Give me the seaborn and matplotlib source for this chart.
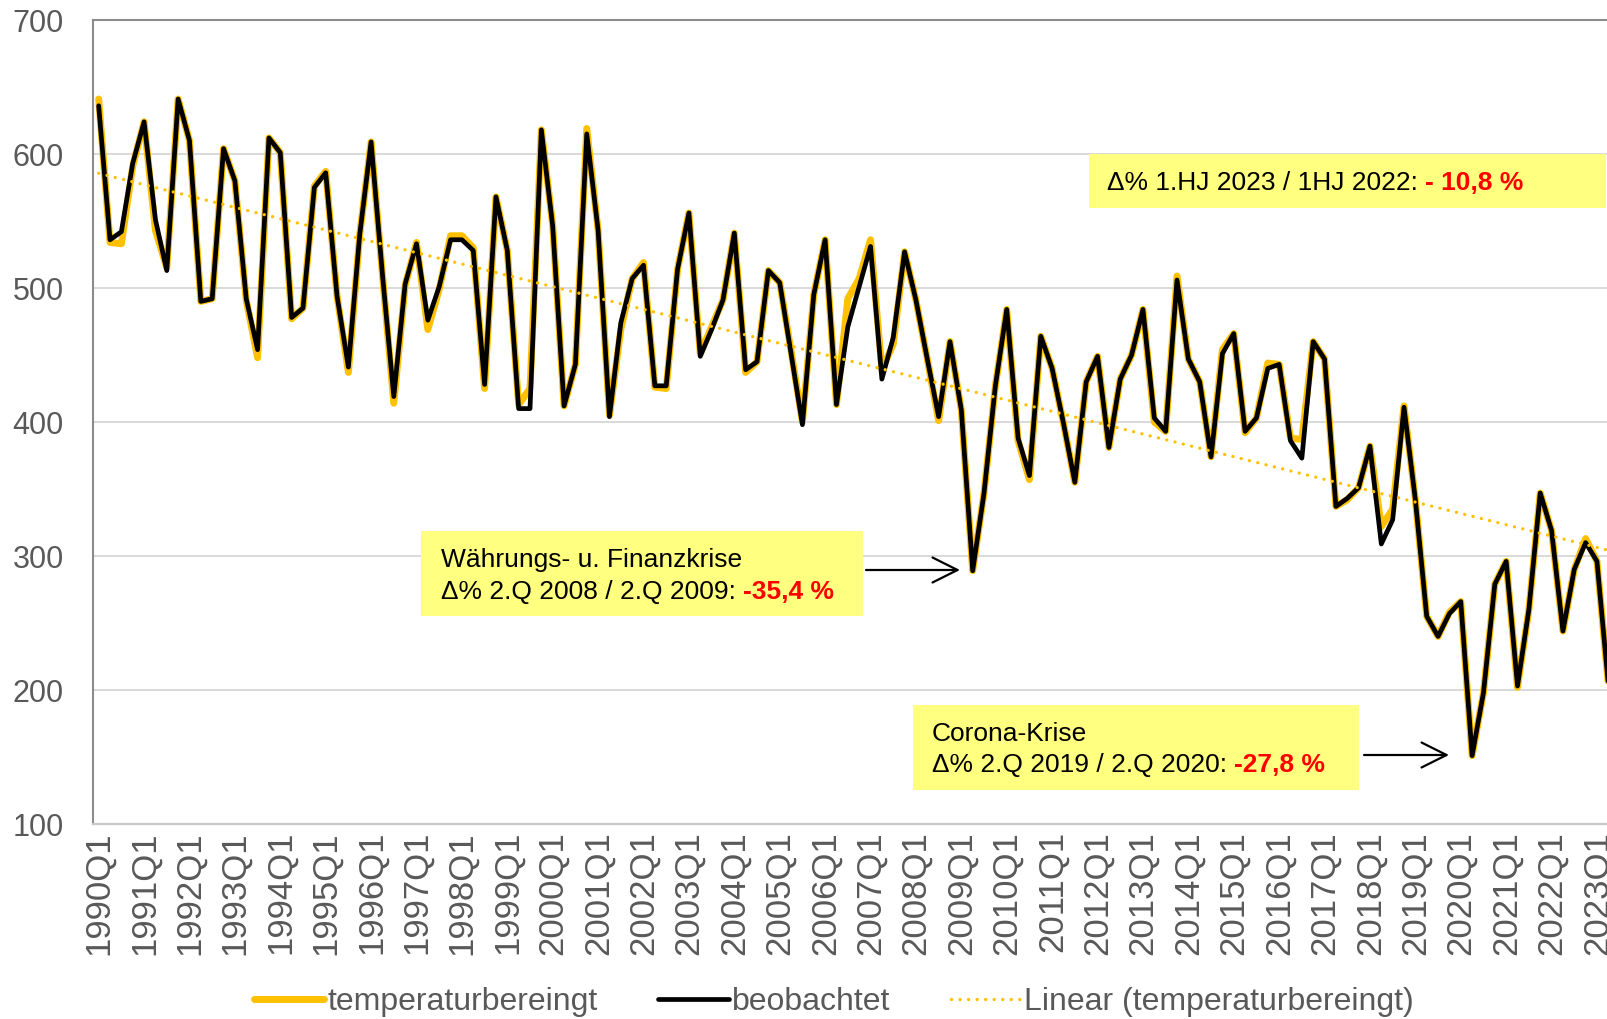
import numpy as np
import pandas as pd
import matplotlib
matplotlib.use("Agg")
import matplotlib.pyplot as plt
import seaborn as sns
from matplotlib.patches import Rectangle

# ---------------- data ----------------
quarters = [f"{y}Q{q}" for y in range(1990, 2024) for q in range(1, 5)][:134]

temperaturbereinigt = [
    641, 534, 533, 591, 624, 543, 515, 641, 610, 490, 492, 604, 580, 491, 448, 612, 601, 477, 485, 576, 587, 494, 437,
    540, 609, 510, 414, 502, 534, 469, 499, 539, 539, 530, 425, 568, 528, 413, 425, 618, 547, 412, 443, 619, 543, 405,
    469, 507, 519, 426, 425, 514, 556, 451, 471, 491, 541, 437, 445, 513, 504, 453, 400, 495, 536, 413, 492, 507, 536,
    439, 458, 527, 491, 447, 401, 460, 409, 289, 347, 427, 484, 386, 357, 464, 440, 399, 355, 430, 449, 381, 432,
    450, 484, 400, 393, 509, 447, 430, 374, 454, 466, 392, 403, 444, 443, 388, 387, 460, 447, 337, 342, 351, 382, 322,
    335, 412, 342, 255, 240, 258, 266, 151, 198, 279, 296, 202, 260, 347, 319, 244, 290, 313, 296, 204,
]

beobachtet = [
    636, 536, 542, 593, 624, 551, 513, 641, 610, 490, 492, 604, 580, 492, 454, 612, 601, 478, 485, 575, 586, 494, 441,
    540, 609, 510, 419, 503, 533, 476, 501, 536, 536, 528, 428, 568, 528, 410, 410, 618, 546, 412, 443, 615, 543, 404,
    474, 507, 517, 427, 427, 514, 556, 449, 469, 491, 541, 439, 445, 513, 504, 451, 398, 495, 536, 413, 471, 501, 531,
    432, 463, 527, 491, 447, 404, 460, 409, 289, 347, 427, 484, 388, 360, 464, 440, 399, 355, 430, 449, 381, 432,
    450, 484, 403, 393, 506, 447, 430, 374, 451, 466, 393, 403, 440, 443, 386, 373, 460, 447, 337, 343, 351, 382, 309,
    327, 411, 342, 255, 240, 257, 266, 151, 198, 279, 296, 203, 260, 347, 319, 244, 290, 310, 296, 204,
]

tick_labels = quarters[::4]
y_ticks = [100, 200, 300, 400, 500, 600, 700]

series_labels = ["temperaturbereingt", "beobachtet", "Linear (temperaturbereingt)"]

box_texts = [
    ("Währungs- u. Finanzkrise", "Δ% 2.Q 2008 / 2.Q 2009: ", "-35,4 %"),
    ("Corona-Krise", "Δ% 2.Q 2019 / 2.Q 2020: ", "-27,8 %"),
    (None, "Δ% 1.HJ 2023 / 1HJ 2022: ", "- 10,8 %"),
]

# ---------------- styling ----------------
ORANGE = "#FFC000"
GRID = "#D9D9D9"
TXT = "#595959"
YELLOW = "#FFFF80"

sns.set_theme(style="white")
plt.rcParams["font.family"] = ["Liberation Sans", "DejaVu Sans"]

W, H = 1608, 1019
fig = plt.figure(figsize=(W / 100, H / 100), dpi=100)


def fx(x):
    return x / W


def fy(y):
    return 1 - y / H


ax_left, ax_right, ax_top, ax_bottom = 93, 1614, 20, 824
ax = fig.add_axes([fx(ax_left), fy(ax_bottom), (ax_right - ax_left) / W, (ax_bottom - ax_top) / H])

idx = np.arange(len(quarters))
df = pd.DataFrame({"idx": idx, "temp": temperaturbereinigt, "beob": beobachtet})
coef = np.polyfit(df["idx"], df["temp"], 1)
df["trend"] = np.polyval(coef, df["idx"])

sns.lineplot(data=df, x="idx", y="temp", ax=ax, color=ORANGE, lw=5.0,
             label=series_labels[0], solid_joinstyle="round", zorder=3)
sns.lineplot(data=df, x="idx", y="beob", ax=ax, color="black", lw=3.4,
             label=series_labels[1], solid_joinstyle="round", zorder=4)
sns.lineplot(data=df, x="idx", y="trend", ax=ax, color=ORANGE, lw=2.4,
             label=series_labels[2], linestyle=(0, (0.01, 2.55)),
             dash_capstyle="round", zorder=5)

ax.set_xlim(-0.5, len(quarters) - 0.5)
ax.set_ylim(100, 700)
ax.set_xticks(idx[::4])
ax.set_xticklabels(tick_labels, rotation=90, fontsize=25, color=TXT)
ax.set_yticks(y_ticks)
ax.set_yticklabels([str(v) for v in y_ticks], fontsize=22, color=TXT)
ax.tick_params(axis="x", length=0, pad=5)
ax.tick_params(axis="y", length=0, pad=21)
ax.set_xlabel("")
ax.set_ylabel("")

ax.yaxis.grid(True, color=GRID, lw=1.4)
ax.xaxis.grid(False)
ax.set_axisbelow(True)
for s in ["left", "top"]:
    ax.spines[s].set_color("#8C8C8C")
    ax.spines[s].set_linewidth(1.5)
ax.spines["bottom"].set_color("#C8C8C8")
ax.spines["bottom"].set_linewidth(1.6)
ax.spines["right"].set_visible(False)

# legend
handles, labels = ax.get_legend_handles_labels()
ax.get_legend().remove()
fig.legend(handles, labels, loc="center", bbox_to_anchor=(fx(834), fy(1002)),
           ncol=3, frameon=False, fontsize=23, handlelength=2.2,
           handletextpad=0.1, columnspacing=1.9, labelcolor=TXT,
           borderaxespad=0, borderpad=0)

# annotation boxes
boxes = [
    dict(rect=(421, 531, 863, 616), tx=441, base1=567, base2=599),
    dict(rect=(913, 705, 1359, 790), tx=932, base1=741, base2=772),
    dict(rect=(1089, 154, 1606, 208), tx=1107, base1=None, base2=190),
]
for b, (l1, l2, red) in zip(boxes, box_texts):
    x0, y0, x1, y1 = b["rect"]
    ax.add_patch(Rectangle((fx(x0), fy(y1)), (x1 - x0) / W, (y1 - y0) / H,
                           transform=fig.transFigure, facecolor=YELLOW,
                           edgecolor="none", clip_on=False, zorder=6))
    if l1:
        ax.text(fx(b["tx"]), fy(b["base1"]), l1, transform=fig.transFigure,
                fontsize=19, color="black", va="baseline", ha="left", zorder=7)
    t2 = ax.text(fx(b["tx"]), fy(b["base2"]), l2, transform=fig.transFigure,
                 fontsize=19, color="black", va="baseline", ha="left", zorder=7)
    ax.annotate(red, xy=(1, 0), xycoords=t2, fontsize=19, color="red",
                fontweight="bold", va="bottom", ha="left", zorder=7,
                annotation_clip=False)

# arrows
for (xs, xe, yy) in [(866, 960, 570), (1364, 1449, 755)]:
    ax.annotate("", xy=(fx(xe), fy(yy)), xytext=(fx(xs), fy(yy)),
                xycoords=fig.transFigure, textcoords=fig.transFigure,
                arrowprops=dict(arrowstyle="->,head_length=0.6,head_width=0.3",
                                lw=1.6, color="black", mutation_scale=30,
                                shrinkA=0, shrinkB=0),
                zorder=7, annotation_clip=False)

fig.savefig("out.png", dpi=100, facecolor="white")
